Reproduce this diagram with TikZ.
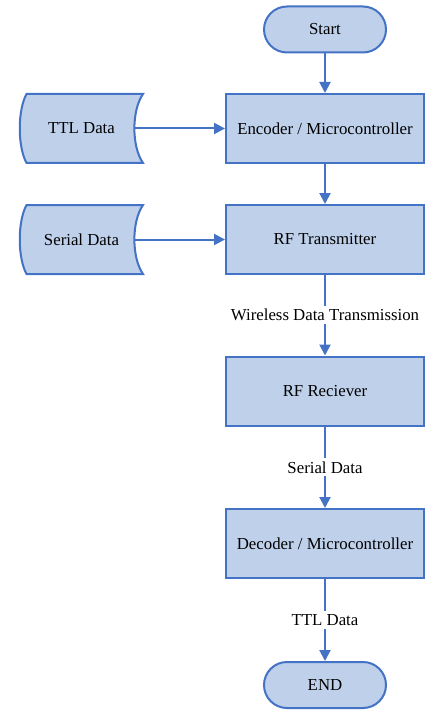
\documentclass[tikz,border=0pt]{standalone}
\usepackage{fontspec}
\setmainfont{Liberation Serif}
\usetikzlibrary{arrows.meta}
\definecolor{boxfill}{RGB}{190,208,234}
\definecolor{boxline}{RGB}{68,114,196}

\begin{document}
\begin{tikzpicture}[x=1pt, y=-1pt, every node/.style={font=\fontsize{16.8}{20}\selectfont}, >={Triangle[length=11pt,width=11pt]}, line width=2pt,
	proc/.style={draw=boxline, fill=boxfill, minimum width=198pt, minimum height=69pt, inner sep=0pt},
	term/.style={draw=boxline, fill=boxfill, rounded corners=23pt, minimum width=122pt, minimum height=46pt, inner sep=0pt},
	store/.style={minimum width=123pt, minimum height=69pt, inner sep=0pt},
	link/.style={->, draw=boxline},
	lbl/.style={midway, fill=white, inner sep=3pt}]
	\fill[white] (0,0) rectangle (442,722);
	\useasboundingbox (0,0) rectangle (442,722);
	% stored data outlines
	\foreach \y in {128.5,239.5}
		\draw[draw=boxline, fill=boxfill, shift={(81.5,\y)}] (-55,-34.5) -- (61.5,-34.5) .. controls (50,-18) and (50,18) .. (61.5,34.5) -- (-55,34.5) .. controls (-64,18) and (-64,-18) .. (-55,-34.5) -- cycle;
	\node[store] (ttl) at (81.5,128.5) {TTL Data};
	\node[store] (ser) at (81.5,239.5) {Serial Data};
	\node[term] (start) at (325,29.5) {Start};
	\node[proc] (enc) at (325,128.5) {Encoder / Microcontroller};
	\node[proc] (tx) at (325,239.5) {RF Transmitter};
	\node[proc] (rx) at (325,391) {RF Reciever};
	\node[proc] (dec) at (325,543.5) {Decoder / Microcontroller};
	\node[term] (stop) at (325,685) {END};
	\draw[link] ([xshift=-10pt]ttl.east) -- (enc);
	\draw[link] ([xshift=-10pt]ser.east) -- (tx);
	\draw[link] (start) -- (enc);
	\draw[link] (enc) -- (tx);
	\draw[link] (tx) -- (rx) node[lbl] {Wireless Data Transmission};
	\draw[link] (rx) -- (dec) node[lbl] {Serial Data};
	\draw[link] (dec) -- (stop) node[lbl] {TTL Data};
\end{tikzpicture}
\end{document}
